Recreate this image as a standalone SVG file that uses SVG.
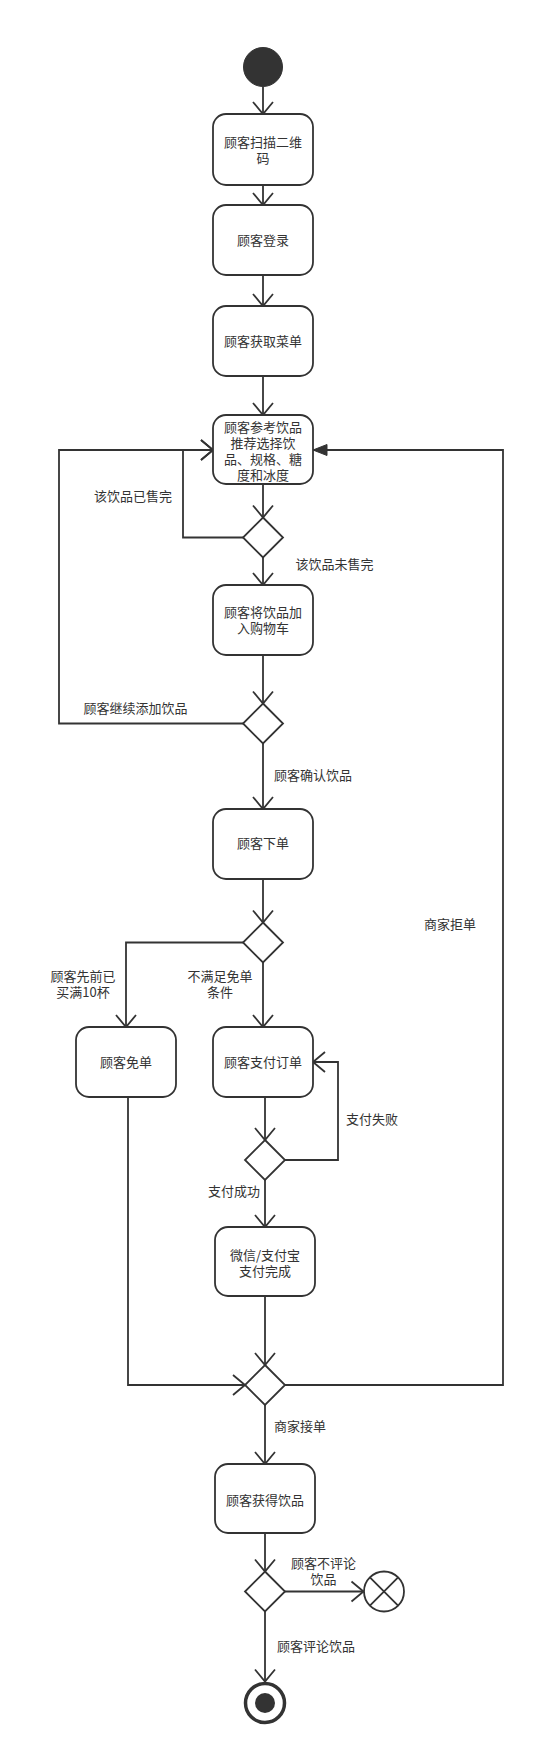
<svg xmlns="http://www.w3.org/2000/svg" width="535" height="1755" viewBox="0 0 535 1755">
<style>
.bg{fill:#ffffff}
.act{fill:#ffffff;stroke:#333333;stroke-width:1.8}
.dec{fill:#ffffff;stroke:#333333;stroke-width:1.8}
.ln{fill:none;stroke:#333333;stroke-width:1.8}
text{font-family:"Noto Sans CJK SC","Noto Sans",sans-serif;font-size:13px;fill:#333333;text-anchor:middle}
</style>
<defs>
<marker id="open" markerUnits="userSpaceOnUse" markerWidth="18" markerHeight="24" viewBox="0 0 18 24" refX="15" refY="12" orient="auto" overflow="visible">
<path d="M3 2 L15 12 L3 22" fill="none" stroke="#333333" stroke-width="1.8"/>
</marker>
<marker id="filled" markerUnits="userSpaceOnUse" markerWidth="18" markerHeight="14" viewBox="0 0 18 14" refX="16" refY="7" orient="auto" overflow="visible">
<path d="M2 1.5 L16 7 L2 12.5 Z" fill="#333333" stroke="#333333" stroke-width="1"/>
</marker>
</defs>
<rect class="bg" x="0" y="0" width="535" height="1755"/>

<g id="connectors">
<path class="ln" d="M263 87 L263 114" marker-end="url(#open)"/>
<path class="ln" d="M263 185 L263 205" marker-end="url(#open)"/>
<path class="ln" d="M263 275 L263 306" marker-end="url(#open)"/>
<path class="ln" d="M263 376 L263 415" marker-end="url(#open)"/>
<path class="ln" d="M263 484 L263 517.5" marker-end="url(#open)"/>
<path class="ln" d="M243 537.5 L183 537.5 L183 450 L213 450" marker-end="url(#open)"/>
<path class="ln" d="M263 557.5 L263 585" marker-end="url(#open)"/>
<path class="ln" d="M263 655 L263 703.5" marker-end="url(#open)"/>
<path class="ln" d="M243 723.5 L59 723.5 L59 450 L213 450" marker-end="url(#open)"/>
<path class="ln" d="M263 743.5 L263 809" marker-end="url(#open)"/>
<path class="ln" d="M263 879 L263 922.5" marker-end="url(#open)"/>
<path class="ln" d="M243 942.5 L126 942.5 L126 1027" marker-end="url(#open)"/>
<path class="ln" d="M263 962.5 L263 1027" marker-end="url(#open)"/>
<path class="ln" d="M265 1097 L265 1140" marker-end="url(#open)"/>
<path class="ln" d="M285 1160 L338 1160 L338 1062 L313 1062" marker-end="url(#open)"/>
<path class="ln" d="M265 1180 L265 1227" marker-end="url(#open)"/>
<path class="ln" d="M265 1296 L265 1365" marker-end="url(#open)"/>
<path class="ln" d="M128 1097 L128 1385 L245 1385" marker-end="url(#open)"/>
<path class="ln" d="M285 1385 L503 1385 L503 450 L313 450" marker-end="url(#filled)"/>
<path class="ln" d="M265 1405 L265 1464" marker-end="url(#open)"/>
<path class="ln" d="M265 1533 L265 1571.5" marker-end="url(#open)"/>
<path class="ln" d="M285 1591.5 L363.5 1591.5" marker-end="url(#open)"/>
<path class="ln" d="M265 1611.5 L265 1681.5" marker-end="url(#open)"/>
<text x="133" y="501">该饮品已售完</text>
<text x="334.5" y="568.5">该饮品未售完</text>
<text x="135.5" y="712.5">顾客继续添加饮品</text>
<text x="313" y="779.5">顾客确认饮品</text>
<text x="450" y="928.5">商家拒单</text>
<text x="83" y="980.5">顾客先前已</text>
<text x="83" y="996.5">买满10杯</text>
<text x="220" y="980.5">不满足免单</text>
<text x="220" y="996.5">条件</text>
<text x="372" y="1123.5">支付失败</text>
<text x="234" y="1196">支付成功</text>
<text x="300" y="1431">商家接单</text>
<text x="323.5" y="1568">顾客不评论</text>
<text x="323.5" y="1584">饮品</text>
<text x="316" y="1650.5">顾客评论饮品</text>
</g>

<g id="start"><circle cx="263" cy="67" r="19.5" fill="#333333" stroke="#333333" stroke-width="1"/></g>

<g id="scan"><rect class="act" x="213" y="114" width="100" height="71" rx="13"/><text x="263" y="147">顾客扫描二维</text><text x="263" y="163">码</text></g>
<g id="login"><rect class="act" x="213" y="205" width="100" height="70" rx="13"/><text x="263" y="244.5">顾客登录</text></g>
<g id="menu"><rect class="act" x="213" y="306" width="100" height="70" rx="13"/><text x="263" y="346">顾客获取菜单</text></g>
<g id="choose"><rect class="act" x="213" y="415" width="100" height="69" rx="13"/><text x="263" y="431.5">顾客参考饮品</text><text x="263" y="447.5">推荐选择饮</text><text x="263" y="463.5">品、规格、糖</text><text x="263" y="479.5">度和冰度</text></g>
<g id="d1"><polygon class="dec" points="263,517.5 283,537.5 263,557.5 243,537.5"/></g>
<g id="cart"><rect class="act" x="213" y="585" width="100" height="70" rx="13"/><text x="263" y="616.5">顾客将饮品加</text><text x="263" y="632.5">入购物车</text></g>
<g id="d2"><polygon class="dec" points="263,703.5 283,723.5 263,743.5 243,723.5"/></g>
<g id="order"><rect class="act" x="213" y="809" width="100" height="70" rx="13"/><text x="263" y="848">顾客下单</text></g>
<g id="d3"><polygon class="dec" points="263,922.5 283,942.5 263,962.5 243,942.5"/></g>
<g id="free"><rect class="act" x="76" y="1027" width="100" height="70" rx="13"/><text x="126" y="1066.5">顾客免单</text></g>
<g id="pay"><rect class="act" x="213" y="1027" width="100" height="70" rx="13"/><text x="263" y="1066.5">顾客支付订单</text></g>
<g id="d4"><polygon class="dec" points="265,1140 285,1160 265,1180 245,1160"/></g>
<g id="paid"><rect class="act" x="215" y="1227" width="100" height="69" rx="13"/><text x="265" y="1259.5">微信/支付宝</text><text x="265" y="1275.5">支付完成</text></g>
<g id="d5"><polygon class="dec" points="265,1365 285,1385 265,1405 245,1385"/></g>
<g id="get"><rect class="act" x="215" y="1464" width="100" height="69" rx="13"/><text x="265" y="1504.5">顾客获得饮品</text></g>
<g id="d6"><polygon class="dec" points="265,1571.5 285,1591.5 265,1611.5 245,1591.5"/></g>
<g id="flowend"><circle cx="384" cy="1591.5" r="20" fill="#ffffff" stroke="#333333" stroke-width="1.8"/><path d="M369.9 1577.4 L398.1 1605.6 M398.1 1577.4 L369.9 1605.6" fill="none" stroke="#333333" stroke-width="1.8"/></g>
<g id="end"><circle cx="265" cy="1703" r="19.5" fill="#ffffff" stroke="#333333" stroke-width="3.5"/><circle cx="265" cy="1703" r="10" fill="#333333"/></g>
</svg>
